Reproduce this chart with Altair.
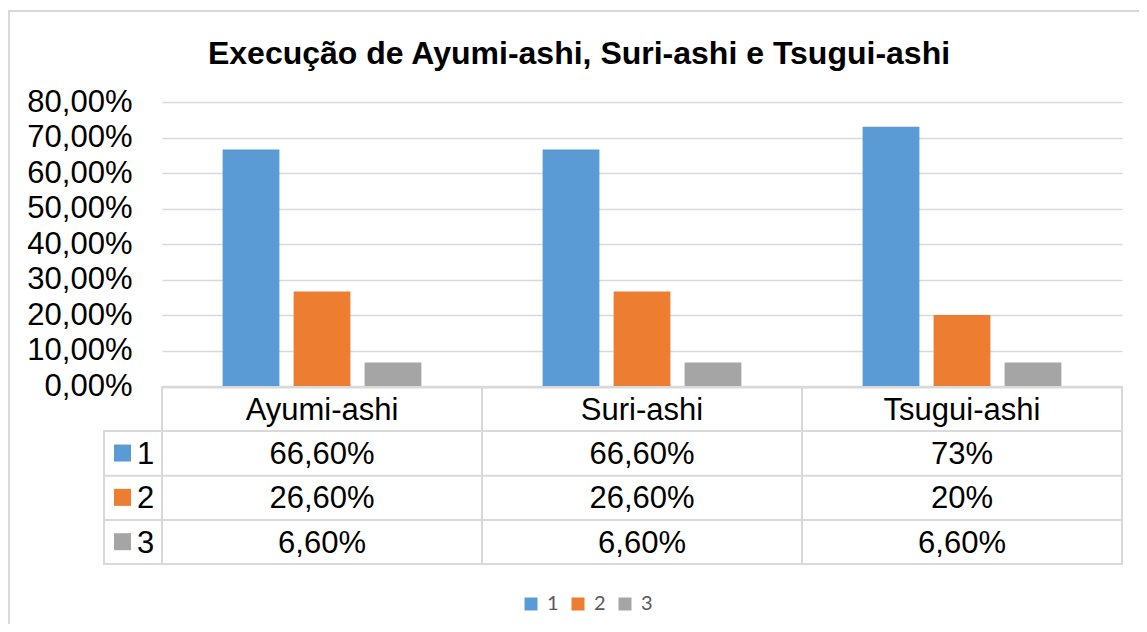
import altair as alt
import pandas as pd

# ---------------- data ----------------
categories = ["Ayumi-ashi", "Suri-ashi", "Tsugui-ashi"]
series = ["1", "2", "3"]
values_1 = [0.666, 0.666, 0.73]
values_2 = [0.266, 0.266, 0.20]
values_3 = [0.066, 0.066, 0.066]
labels_1 = ["66,60%", "66,60%", "73%"]
labels_2 = ["26,60%", "26,60%", "20%"]
labels_3 = ["6,60%", "6,60%", "6,60%"]
colors = ["#5b9bd5", "#ed7d31", "#a5a5a5"]
y_ticks = [0, 0.1, 0.2, 0.3, 0.4, 0.5, 0.6, 0.7, 0.8]
title_text = "Execução de Ayumi-ashi, Suri-ashi e Tsugui-ashi"
top_text = "eficiência, 2: Com alguma dificuldade, 3: Com muita dificuldade."

values = {"1": values_1, "2": values_2, "3": values_3}
labels = {"1": labels_1, "2": labels_2, "3": labels_3}

bar_rows = []
for s in series:
    for c, v in zip(categories, values[s]):
        bar_rows.append({"cat": c, "series": s, "value": v})
bars_df = pd.DataFrame(bar_rows)

cell_rows = [{"cat": c, "row": "h", "label": c} for c in categories]
for s in series:
    for c, l in zip(categories, labels[s]):
        cell_rows.append({"cat": c, "row": s, "label": l})
cells_df = pd.DataFrame(cell_rows)
keys_df = pd.DataFrame({"series": series, "row": series})

# ---------------- layout ----------------
W, H = 960, 284
PAD = {"left": 154, "top": 94, "right": 17, "bottom": 238}
FONT = "Liberation Sans"
GRID = "#d9d9d9"

x_scale = alt.Scale(type="band", domain=categories, paddingInner=0, paddingOuter=0)
row_scale = alt.Scale(type="point", domain=["h"] + series, range=[317.5, 450.5], padding=0)
color_scale = alt.Scale(domain=series, range=colors)

bars = alt.Chart(bars_df).mark_bar().encode(
    x=alt.X("cat:N", scale=x_scale, axis=None),
    xOffset=alt.XOffset("series:N", sort=series,
                        scale=alt.Scale(paddingInner=0.2, paddingOuter=0.854)),
    y=alt.Y("value:Q", scale=alt.Scale(domain=[0, 0.8], nice=False, zero=True),
            axis=alt.Axis(values=y_ticks, title=None, domain=False, ticks=False,
                          grid=True, gridColor=GRID, gridWidth=1.3,
                          labelExpr="replace(format(datum.value, '.2%'), '.', ',')",
                          labelFont=FONT, labelFontSize=31, labelColor="#000000",
                          labelPadding=30)),
    color=alt.Color("series:N", scale=color_scale,
                    legend=alt.Legend(orient="none", legendX=359, legendY=492,
                                      direction="horizontal", title=None,
                                      symbolType="square", symbolSize=169,
                                      symbolStrokeWidth=0, symbolOpacity=1,
                                      labelFont="Lato", labelFontSize=20,
                                      labelColor="#595959", labelOffset=6,
                                      columnPadding=9)),
)

cells = alt.Chart(cells_df).mark_text(font=FONT, fontSize=31, color="#000000",
                                      baseline="alphabetic", align="center").encode(
    x=alt.X("cat:N", scale=x_scale, axis=None, bandPosition=0.5),
    y=alt.Y("row:N", scale=row_scale, axis=None),
    text="label:N",
)

keys = alt.Chart(keys_df).mark_square(size=289, opacity=1, yOffset=-10.8).encode(
    x=alt.value(-39.5),
    y=alt.Y("row:N", scale=row_scale, axis=None),
    color=alt.Color("series:N", scale=color_scale),
)

key_labels = alt.Chart(keys_df).mark_text(font=FONT, fontSize=31, color="#000000",
                                          baseline="alphabetic", align="left").encode(
    x=alt.value(-25),
    y=alt.Y("row:N", scale=row_scale, axis=None),
    text="series:N",
)

# table and frame lines (x1, x2, y1, y2 in plot pixels)
segments = [
    (0, W, 285.5, 285.5),
    (-58, W, 329, 329),
    (-58, W, 373.7, 373.7),
    (-58, W, 418, 418),
    (-58, W, 462, 462),
    (-58, -58, 329, 462),
    (0, 0, 285.5, 462),
    (320, 320, 285.5, 462),
    (640, 640, 285.5, 462),
    (W, W, 285.5, 462),
    (-153, -153, -91, 560),
    (-153, 1010, -91, -91),
]
rules = []
for x1, x2, y1, y2 in segments:
    rules.append(
        alt.Chart(pd.DataFrame({"k": [0]})).mark_rule(
            color=GRID, strokeWidth=2, strokeCap="square").encode(
            x=alt.value(x1), x2=alt.value(x2), y=alt.value(y1), y2=alt.value(y2))
    )

title = alt.Chart(pd.DataFrame({"t": [title_text]})).mark_text(
    font=FONT, fontSize=32, fontWeight="bold", color="#000000",
    align="center", baseline="alphabetic").encode(
    x=alt.value(417), y=alt.value(-38), text="t:N")

top = alt.Chart(pd.DataFrame({"t": [top_text]})).mark_text(
    font=FONT, fontSize=30, color="#000000",
    align="center", baseline="alphabetic").encode(
    x=alt.value(424), y=alt.value(-101), text="t:N")

chart = alt.layer(
    bars, *rules, cells, keys, key_labels, title, top
).resolve_scale(
    y="independent"
).properties(
    width=W, height=H,
    autosize=alt.AutoSizeParams(type="none"),
    padding=PAD,
).configure_view(stroke="transparent")

chart.save("out.html", embed_options={"renderer": "svg", "actions": False})
